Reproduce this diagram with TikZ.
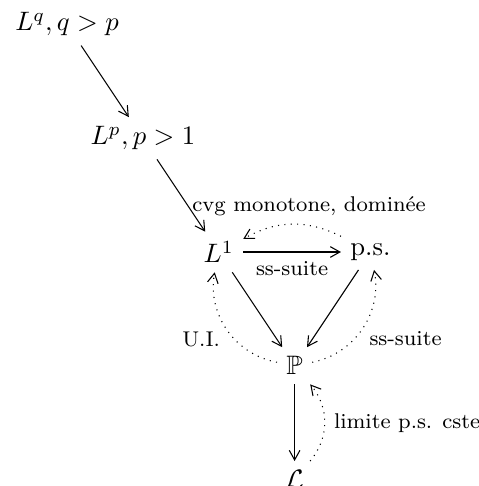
\documentclass[tikz,border=0pt]{standalone}
\usepackage{amssymb}
\usetikzlibrary{arrows.meta}
\begin{document}
\begin{tikzpicture}[
  tip/.style={-{Straight Barb[length=3.6pt,width=4pt]}},
  lab/.style={font=\footnotesize},
  ar/.style={tip},
  dar/.style={tip,dotted}]
\useasboundingbox (-3.884,-1.585) rectangle (2.418,4.822);
\node (P) at (0,0) {$\mathbb{P}$};
\node (L1) at (-1,1.5) {$L^1$};
\node (ps) at (1,1.5) {p.s.};
\node (Lp) at (-2,3) {$L^p, p>1$};
\node (Lq) at (-3,4.5) {$L^q, q>p$};
\node (cL) at (0,-1.5) {$\mathcal{L}$};
\draw[ar] (Lq) -- (Lp);
\draw[ar] (Lp) -- (L1);
\draw[ar] (L1) -- node[lab,below]{ss-suite} (ps);
\draw[ar] (L1) -- (P);
\draw[ar] (ps) -- (P);
\draw[ar] (P) -- (cL);
\draw[dar] (ps) to[bend right=28] node[lab,above,pos=0.32]{cvg monotone, dominée} (L1);
\draw[dar] (P) to[bend left=45] node[lab,left,pos=0.4,xshift=-2pt]{U.I.} (L1);
\draw[dar] (P) to[bend right=45] node[lab,right,pos=0.4,xshift=2pt]{ss-suite} (ps);
\draw[dar] (cL) to[bend right=40] node[lab,right]{limite p.s. cste} (P);
\end{tikzpicture}
\end{document}
